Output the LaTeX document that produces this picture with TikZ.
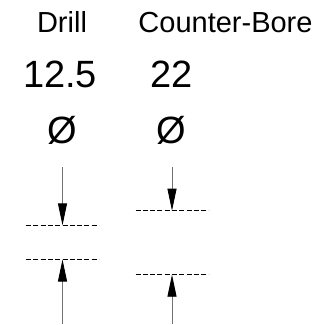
\documentclass[tikz,border=0pt]{standalone}
\usepackage{fontspec}
\setmainfont{Liberation Sans}
\usetikzlibrary{arrows.meta}

\begin{document}
\begin{tikzpicture}
[x=1pt,y=-1pt,
  labelDecorate/.style={anchor=base,inner sep=0pt,font=\fontsize{29}{34}\selectfont},
  sizeDecorate/.style={anchor=base,inner sep=0pt,font=\fontsize{38}{44}\selectfont},
  lineDecorate/.style={-,line width=0.9pt,dash pattern=on 5pt off 2.3pt},
  arrowDecorate/.style={-{Triangle[length=22pt,width=9pt,color=black]},line width=0.9pt,draw=black!55}]
\useasboundingbox (0,0) rectangle (326,324);
%% texts
\foreach \nodename/\x/\txt in {drill/62/Drill, cbore/225.5/Counter-Bore}
{
  \node (\nodename) at (\x,32.5) [labelDecorate] {\txt};
}
\foreach \nodename/\x/\txt in {drillSize/60/12.5, cboreSize/171.5/22}
{
  \node (\nodename) at (\x,87) [sizeDecorate] {\txt};
}
\foreach \nodename/\x in {drillSym/62.5, cboreSym/171.5}
{
  \node (\nodename) at (\x,143) [sizeDecorate] {Ø};
}
%% dashed limits
\foreach \nodename/\x/\y in {
  drillTop/62.5/225.3, drillBot/62.5/259.5,
  cboreTop/172/210.7, cboreBot/172/274.7}
{
  \coordinate (\nodename) at (\x,\y);
  \draw[lineDecorate] ([xshift=-36.5pt]\nodename) -- ([xshift=36.5pt]\nodename);
}
%% arrows
\foreach \nodename/\x/\y in {
  drillIn/62.5/167, drillOut/62.5/324,
  cboreIn/172/167, cboreOut/172/324}
{
  \coordinate (\nodename) at (\x,\y);
}
\path
\foreach \startnode/\endnode in {
  drillIn/drillTop, drillOut/drillBot, cboreIn/cboreTop, cboreOut/cboreBot}
{
  (\startnode) edge[arrowDecorate] (\endnode)
};
\end{tikzpicture}
\end{document}
